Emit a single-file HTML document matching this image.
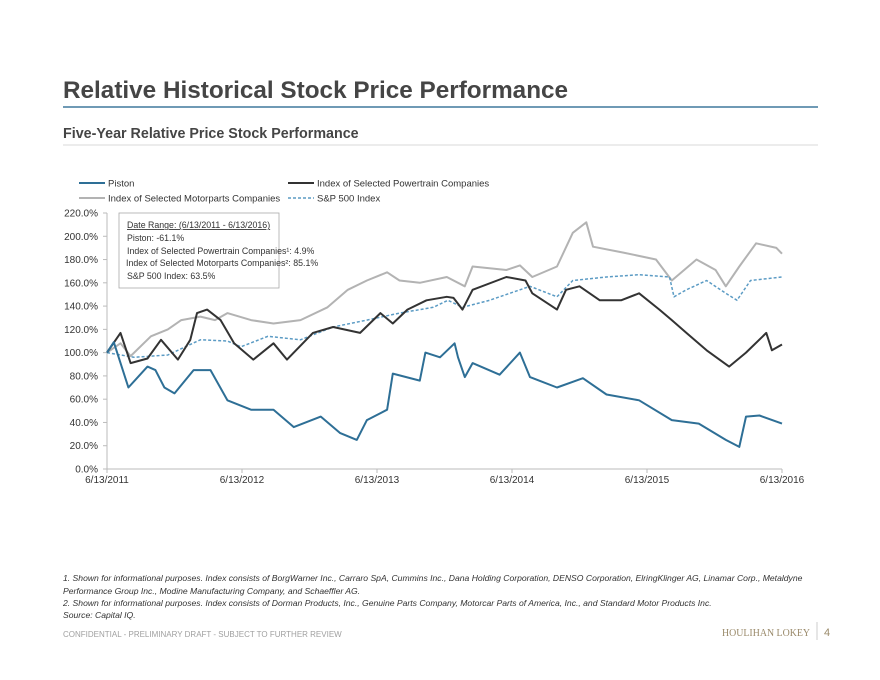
<!DOCTYPE html>
<html><head><meta charset="utf-8"><style>
body{margin:0;background:#fff;}
svg{display:block;font-family:"Liberation Sans",Arial,sans-serif;}
</style></head><body>
<svg width="880" height="680" viewBox="0 0 880 680" xmlns="http://www.w3.org/2000/svg">
<text x="63" y="98" font-size="24.3" font-weight="bold" fill="#454545">Relative Historical Stock Price Performance</text>
<line x1="63" y1="107" x2="818" y2="107" stroke="#6f9ab5" stroke-width="2"/>
<text x="63" y="138" font-size="14.3" font-weight="bold" fill="#454545">Five-Year Relative Price Stock Performance</text>
<line x1="63" y1="145" x2="818" y2="145" stroke="#d8d8d8" stroke-width="1"/>

<g font-size="9.5" fill="#333">
<g><line x1="79" y1="183" x2="105" y2="183" stroke="#2e6f96" stroke-width="2"/><text x="108" y="186.5">Piston</text></g>
<g><line x1="288" y1="183" x2="314" y2="183" stroke="#333" stroke-width="2"/><text x="317" y="186.5">Index of Selected Powertrain Companies</text></g>
<g><line x1="79" y1="198" x2="105" y2="198" stroke="#b3b3b3" stroke-width="2"/><text x="108" y="201.5">Index of Selected Motorparts Companies</text></g>
<g><line x1="288" y1="198" x2="314" y2="198" stroke="#5b9bc4" stroke-width="1.5" stroke-dasharray="3,2"/><text x="317" y="201.5">S&amp;P 500 Index</text></g>
</g>

<g id="axes"></g>
<g id="series"></g>

<g font-size="8.8" fill="#333">
<rect x="119" y="213" width="160" height="75" fill="#fff" stroke="#aaa" stroke-width="0.8"/>
<text x="127" y="228" text-decoration="underline">Date Range:  (6/13/2011 - 6/13/2016)</text>
<text x="127" y="241">Piston:  -61.1%</text>
<text x="127" y="254">Index of Selected Powertrain Companies¹:  4.9%</text>
<text x="126" y="266">Index of Selected Motorparts Companies²:  85.1%</text>
<text x="127" y="279">S&amp;P 500 Index:  63.5%</text>
</g>

<g font-size="8.6" font-style="italic" fill="#333">
<text x="63" y="581">1. Shown for informational purposes. Index consists of BorgWarner Inc., Carraro SpA, Cummins Inc., Dana Holding Corporation, DENSO Corporation, ElringKlinger AG, Linamar Corp., Metaldyne</text>
<text x="63" y="594">Performance Group Inc., Modine Manufacturing Company, and Schaeffler AG.</text>
<text x="63" y="606">2. Shown for informational purposes. Index consists of Dorman Products, Inc., Genuine Parts Company, Motorcar Parts of America, Inc., and Standard Motor Products Inc.</text>
<text x="63" y="618">Source: Capital IQ.</text>
</g>
<text x="63" y="637" font-size="8" fill="#a0a0a0">CONFIDENTIAL - PRELIMINARY DRAFT - SUBJECT TO FURTHER REVIEW</text>
<text x="722" y="636" font-size="10" fill="#9a8a6a" font-family="Liberation Serif,serif" textLength="88" lengthAdjust="spacingAndGlyphs">HOULIHAN LOKEY</text>
<line x1="817" y1="622" x2="817" y2="640" stroke="#ccc"/>
<text x="824" y="636" font-size="11" fill="#9a8a6a">4</text>
</svg>
<script>
const months_piston=[0,0.6,1.9,3.6,4.3,5.1,6,7.7,9.2,10.7,12.8,14.8,16.6,19,20.7,22.2,23.1,24.9,25.4,27.8,28.3,29.6,30.9,31.2,31.8,32.5,34.9,36.7,37.6,40,42.3,44.4,47.3,50.2,52.6,55,56.2,56.8,58,60];
const piston=[100,109,70,88,85,70,65,85,85,59,51,51,36,45,31,25,42,51,82,76,100,96,108,96,79,91,81,100,79,70,78,64,59,42,39,25,19,45,46,39];
const months_power=[0,1.2,2.1,3.6,4.8,6.3,7.4,8,8.9,10.1,11.3,13,14.8,16,18.3,20.1,22.5,24.3,25.4,26.7,28.4,30.2,30.8,31.6,32.5,35.5,37.2,37.8,40,40.8,42,43.8,45.7,47.3,49.1,50.2,51.5,53.3,55.3,56.8,58.6,59.1,60];
const powertrain=[100,117,91,95,111,94,111,134,137,128,108,94,108,94,117,122,117,134,125,137,145,148,147,137,154,165,162,151,137,154,157,145,145,151,137,128,117,102,88,100,117,102,107];
const months_motor=[0,1.2,2.1,3.9,5.4,6.6,8.3,9.6,10.7,12.8,14.8,17.2,19.6,21.4,23.1,24.9,26,27.8,30.2,31.8,32.5,35.5,36.7,37.8,40,41.4,42.6,43.2,45.9,48.8,50.2,52.4,54.1,55,56.2,57.7,59.5,60];
const motorparts=[100,108,97,114,120,128,131,128,134,128,125,128,139,154,162,169,162,160,165,157,174,171,175,165,174,203,212,191,186,180,162,180,171,157,174,194,190,185];
const months_sp=[0,2.4,5.4,8.3,10.7,11.9,14.3,17.2,20.1,23.1,26,29,30.3,31.6,34,37.6,40,41.4,44.4,47.3,50,50.4,51.5,53.3,55,56,57.2,60];
const sp500=[100,96,98,111,110,105,114,111,122,128,134,139,145,139,145,157,148,162,165,167,165,148,154,162,151,145,162,165];
const yTicks=[0,20,40,60,80,100,120,140,160,180,200,220];
const xTickLabels=["6/13/2011","6/13/2012","6/13/2013","6/13/2014","6/13/2015","6/13/2016"];
const NS="http://www.w3.org/2000/svg";
const X0=107,X1=782,Y0=469,Y1=213;
function xs(m){return X0+(X1-X0)*m/60;}
function ys(v){return Y0-(Y0-Y1)*v/220;}
const axes=document.getElementById('axes');
function mk(tag,attrs,parent){const e=document.createElementNS(NS,tag);for(const k in attrs)e.setAttribute(k,attrs[k]);parent.appendChild(e);return e;}
const ya=mk('line',{x1:X0,y1:Y1,x2:X0,y2:Y0,stroke:'#bbb','stroke-width':1},axes);


const xa=mk('line',{x1:X0,y1:Y0,x2:X1,y2:Y0,stroke:'#bbb','stroke-width':1},axes);


yTicks.forEach(v=>{
  mk('line',{x1:X0-4,y1:ys(v),x2:X0,y2:ys(v),stroke:'#bbb'},axes);
  const t=mk('text',{x:X0-9,y:ys(v)+3.5,'font-size':10,fill:'#333','text-anchor':'end'},axes);
  t.textContent=v.toFixed(1)+'%';
  
  
});
xTickLabels.forEach((lab,i)=>{
  const x=xs(i*12);
  mk('line',{x1:x,y1:Y0,x2:x,y2:Y0+4,stroke:'#bbb'},axes);
  const t=mk('text',{x:x,y:Y0+14,'font-size':10,fill:'#333','text-anchor':'middle'},axes);
  t.textContent=lab;
  
  
});
const sg=document.getElementById('series');
function line(ms,vals,color,w,dash,name){
  const pts=ms.map((m,i)=>xs(m).toFixed(1)+','+ys(vals[i]).toFixed(1)).join(' ');
  const p=mk('polyline',{points:pts,fill:'none',stroke:color,'stroke-width':w,'stroke-linejoin':'round'},sg);
  if(dash)p.setAttribute('stroke-dasharray',dash);
  
  
}
line(months_motor,motorparts,'#b3b3b3',2,null,'motorparts-line');
line(months_sp,sp500,'#5b9bc4',1.5,'3,2','sp500-line');
line(months_power,powertrain,'#333',2,null,'powertrain-line');
line(months_piston,piston,'#2e6f96',2,null,'piston-line');
</script>
</body></html>
